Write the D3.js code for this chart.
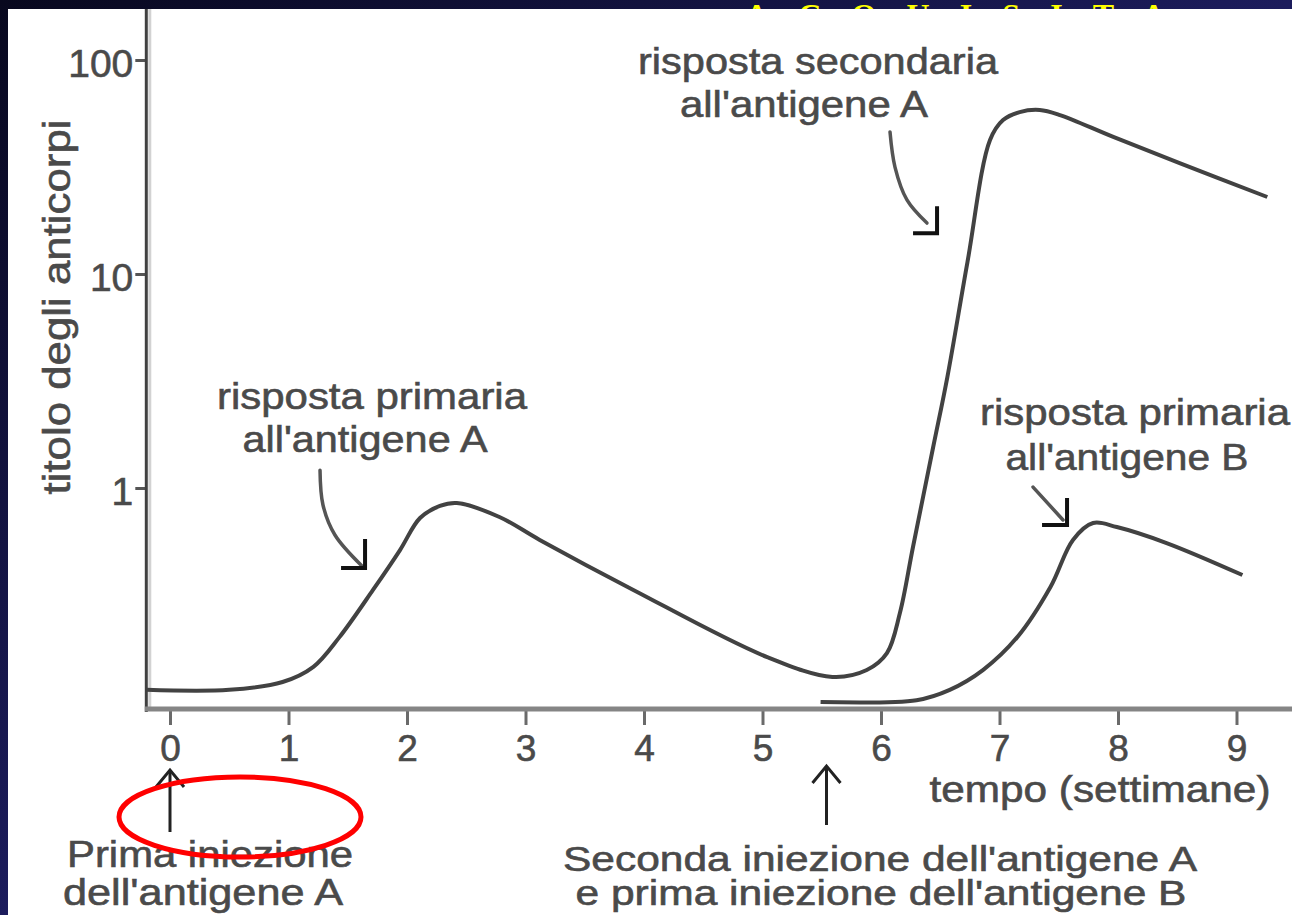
<!DOCTYPE html>
<html>
<head>
<meta charset="utf-8">
<script src="https://cdn.jsdelivr.net/npm/d3@7"></script>
<style>
  html, body { margin: 0; padding: 0; background: #1a1a55; }
  svg { display: block; }
  text { font-family: "Liberation Sans", Arial, Helvetica, sans-serif; }
  .lbl { stroke: #4a4a4a; stroke-width: 0.6px; }
</style>
</head>
<body>
<script>
// ---------------- DATA ----------------
const xTicks = [0, 1, 2, 3, 4, 5, 6, 7, 8, 9];
const yTicks = [1, 10, 100];

// antigen A: primary response then secondary response (weeks, antibody titre)
const timeA  = [-0.2, 0.5, 0.95, 1.21, 1.43, 1.713, 1.941, 2.11, 2.278, 2.42, 2.78, 3.12, 3.91, 5.04, 5.59, 5.88, 6.05, 6.16, 6.27, 6.44, 6.56, 6.73, 6.92, 7.03, 7.17, 7.34, 7.51, 7.96, 8.52, 9.26];
const valueA = [0.114, 0.114, 0.124, 0.146, 0.201, 0.334, 0.513, 0.724, 0.824, 0.851, 0.732, 0.572, 0.334, 0.162, 0.131, 0.141, 0.169, 0.261, 0.53, 1.55, 3.3, 11.4, 42.3, 52.4, 57.1, 58.4, 55.3, 43.7, 33.0, 22.9];

// antigen B: primary response
const timeB  = [5.49, 6.30, 6.58, 6.86, 7.15, 7.43, 7.62, 7.79, 7.99, 8.41, 9.05];
const valueB = [0.100, 0.102, 0.114, 0.141, 0.201, 0.345, 0.572, 0.686, 0.657, 0.553, 0.392];

// annotation arrows (data units: weeks, titre)
const arrowPrimA = { t: [1.266, 1.291, 1.392, 1.62], v: [1.21, 0.833, 0.603, 0.432], tip: [1.646, 0.423] };
const arrowSecA  = { t: [6.076, 6.118, 6.219, 6.388], v: [46.1, 31.6, 22.2, 17.3], tip: [6.473, 15.5] };
const arrowPrimB = { t: [7.283, 7.536], v: [1.01, 0.709], tip: [7.570, 0.671] };

const injectionTimes = [0, 5.54];

// ---------------- DRAWING ----------------
const W = 1292, H = 915;
const svg = d3.select("body").append("svg").attr("width", W).attr("height", H);

const defs = svg.append("defs");
const grad = defs.append("linearGradient").attr("id", "bg")
  .attr("x1", "0").attr("y1", "0").attr("x2", "1").attr("y2", "1");
grad.append("stop").attr("offset", "0").attr("stop-color", "#08081e");
grad.append("stop").attr("offset", "0.5").attr("stop-color", "#1c1c5c");
grad.append("stop").attr("offset", "1").attr("stop-color", "#2c2c8e");
svg.append("rect").attr("width", W).attr("height", H).attr("fill", "url(#bg)");

// slide title peeking above the picture
svg.append("text").attr("x", 745).attr("y", 26)
  .attr("textLength", 420).attr("lengthAdjust", "spacing")
  .style("font-family", "'Liberation Serif', 'Times New Roman', serif")
  .style("font-weight", "bold").style("font-size", "32px")
  .attr("fill", "#ffff00").text("ACQUISITA");

// white picture
svg.append("rect").attr("x", 8).attr("y", 9).attr("width", W - 8).attr("height", H - 9).attr("fill", "#ffffff");

const x = d3.scaleLinear().domain([0, 9]).range([170, 1236.5]);
const y = d3.scaleLog().domain([1, 100]).range([488, 60]);

const axisX0 = x(-0.2);
const axisY0 = 709;
const textCol = "#4a4a4a";

// y axis
svg.append("line").attr("x1", axisX0 + 3.5).attr("x2", axisX0 + 3.5).attr("y1", 9).attr("y2", axisY0)
  .attr("stroke", "#d2d2d2").attr("stroke-width", 3);
const gy = svg.append("g").attr("transform", `translate(${axisX0},0)`)
  .call(d3.axisLeft(y).tickValues(yTicks).tickFormat(d3.format("d")).tickSize(11).tickPadding(2));
gy.select(".domain").remove();
gy.selectAll(".tick line").attr("stroke", "#555").attr("stroke-width", 3);
gy.selectAll(".tick text").attr("class", "lbl").attr("fill", textCol).style("font-size", "39px").attr("dy", "0.41em");
svg.append("line").attr("x1", axisX0).attr("x2", axisX0).attr("y1", 9).attr("y2", axisY0 + 3)
  .attr("stroke", "#404040").attr("stroke-width", 3);

// x axis
const gx = svg.append("g").attr("transform", `translate(0,${axisY0})`)
  .call(d3.axisBottom(x).tickValues(xTicks).tickFormat(d3.format("d")).tickSize(16).tickPadding(10));
gx.select(".domain").remove();
gx.selectAll(".tick line").attr("stroke", "#6a6a6a").attr("stroke-width", 3);
gx.selectAll(".tick text").attr("class", "lbl").attr("fill", textCol).style("font-size", "37px");
svg.append("line").attr("x1", axisX0 - 1.5).attr("x2", W).attr("y1", axisY0).attr("y2", axisY0)
  .attr("stroke", "#858585").attr("stroke-width", 5);

// axis titles
svg.append("text").attr("class", "lbl").attr("transform", "translate(70,307) rotate(-90)")
  .attr("text-anchor", "middle").attr("fill", textCol).style("font-size", "38px")
  .attr("textLength", 375).attr("lengthAdjust", "spacingAndGlyphs")
  .text("titolo degli anticorpi");
svg.append("text").attr("class", "lbl").attr("x", 1100).attr("y", 802).attr("text-anchor", "middle")
  .attr("fill", textCol).style("font-size", "37px")
  .attr("textLength", 341).attr("lengthAdjust", "spacingAndGlyphs")
  .text("tempo (settimane)");

// curves
const line = d3.line().x(d => x(d[0])).y(d => y(d[1])).curve(d3.curveCatmullRom.alpha(0.5));
const dataA = timeA.map((t, i) => [t, valueA[i]]);
const dataB = timeB.map((t, i) => [t, valueB[i]]);
svg.append("path").attr("d", line(dataA)).attr("fill", "none")
  .attr("stroke", "#424242").attr("stroke-width", 4).attr("stroke-linejoin", "round");
svg.append("path").attr("d", line(dataB)).attr("fill", "none")
  .attr("stroke", "#424242").attr("stroke-width", 4).attr("stroke-linejoin", "round");

// annotation arrows
const arrowLine = d3.line().x(d => x(d[0])).y(d => y(d[1])).curve(d3.curveCatmullRom);
function drawArrow(a, vArm, hArm) {
  const pts = a.t.map((t, i) => [t, a.v[i]]);
  svg.append("path").attr("d", arrowLine(pts)).attr("fill", "none")
    .attr("stroke", "#555").attr("stroke-width", 3.5).attr("stroke-linecap", "round");
  const cx = x(a.tip[0]), cy = y(a.tip[1]);
  svg.append("path").attr("d", `M${cx},${cy - vArm}L${cx},${cy}L${cx - hArm},${cy}`)
    .attr("fill", "none").attr("stroke", "#111").attr("stroke-width", 4);
}
drawArrow(arrowPrimA, 29, 24);
drawArrow(arrowSecA, 27, 24);
drawArrow(arrowPrimB, 27, 25);

// annotation labels
function label(lines, size) {
  lines.forEach(l => {
    svg.append("text").attr("class", "lbl").attr("x", l.cx).attr("y", l.y).attr("text-anchor", "middle")
      .attr("fill", textCol).style("font-size", (size || 37) + "px")
      .attr("textLength", l.len).attr("lengthAdjust", "spacingAndGlyphs").text(l.s);
  });
}
label([{ s: "risposta secondaria", cx: 818, y: 74, len: 360 },
       { s: "all'antigene A", cx: 804, y: 117, len: 248 }]);
label([{ s: "risposta primaria", cx: 372, y: 409, len: 310 },
       { s: "all'antigene A", cx: 365, y: 452, len: 245 }]);
label([{ s: "risposta primaria", cx: 1135, y: 425, len: 310 },
       { s: "all'antigene B", cx: 1127, y: 470, len: 243 }]);
label([{ s: "Prima iniezione", cx: 210, y: 867, len: 286 },
       { s: "dell'antigene A", cx: 203, y: 905, len: 280 }]);
label([{ s: "Seconda iniezione dell'antigene A", cx: 880, y: 871, len: 634 },
       { s: "e prima iniezione dell'antigene B", cx: 881, y: 905, len: 611 }], 35);

// injection arrows (up arrows below the axis)
const upTop = [770, 766], upBot = [832, 825];
injectionTimes.forEach((t, i) => {
  const cx = x(t);
  svg.append("line").attr("x1", cx).attr("x2", cx).attr("y1", upTop[i]).attr("y2", upBot[i])
    .attr("stroke", "#222").attr("stroke-width", 3);
  svg.append("path").attr("d", `M${cx - 14},${upTop[i] + 17}L${cx},${upTop[i]}L${cx + 14},${upTop[i] + 17}`)
    .attr("fill", "none").attr("stroke", "#222").attr("stroke-width", 3);
});

// red highlight ellipse
svg.append("ellipse").attr("cx", 240).attr("cy", 817).attr("rx", 121).attr("ry", 40)
  .attr("fill", "none").attr("stroke", "#ff0000").attr("stroke-width", 5);
</script>
</body>
</html>
